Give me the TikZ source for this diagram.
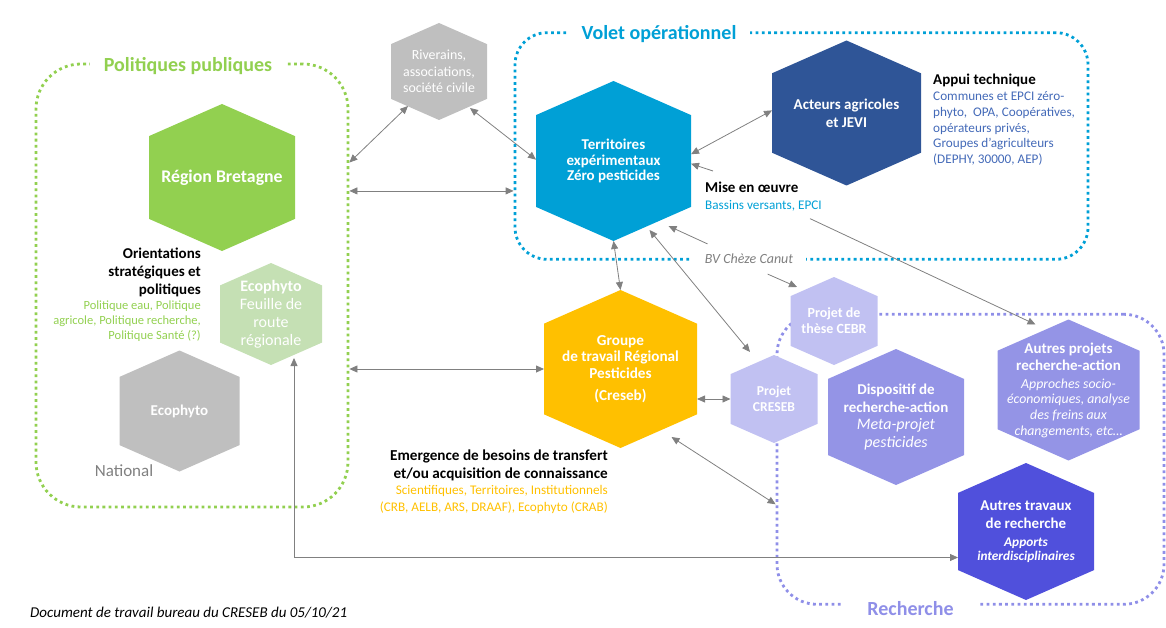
\documentclass[tikz,border=0pt]{standalone}
\usepackage{fontspec}
\setmainfont{Carlito}
\usetikzlibrary{arrows.meta,positioning}

\definecolor{vert}{RGB}{146,208,80}
\definecolor{vertclair}{RGB}{197,224,180}
\definecolor{gris}{RGB}{191,191,191}
\definecolor{grisfonce}{RGB}{128,128,128}
\definecolor{bleu}{RGB}{0,160,214}
\definecolor{bleufonce}{RGB}{47,85,151}
\definecolor{bleutexte}{RGB}{68,106,184}
\definecolor{jaune}{RGB}{255,192,0}
\definecolor{lavclair}{RGB}{193,193,242}
\definecolor{lav}{RGB}{148,148,230}
\definecolor{lavfonce}{RGB}{80,80,220}
\definecolor{lavbord}{RGB}{143,143,232}

\newcommand{\fsz}[2]{\fontsize{#1}{#2}\selectfont}

\tikzset{
  hexa/.style n args={3}{rectangle, minimum width=#1, minimum height=#2,
    inner sep=0pt, outer sep=0pt, text=white, align=center,
    path picture={\fill[#3] (path picture bounding box.north)
      -- ([yshift=-0.22*#1]path picture bounding box.north east)
      -- ([yshift=0.22*#1]path picture bounding box.south east)
      -- (path picture bounding box.south)
      -- ([yshift=0.22*#1]path picture bounding box.south west)
      -- ([yshift=-0.22*#1]path picture bounding box.north west) -- cycle;}},
  cadre/.style={draw=#1, line width=2.8pt, dash pattern=on 2.8pt off 3.4pt,
    rounded corners=40pt, inner sep=0pt},
  titre/.style={fill=white, text=#1, font=\bfseries\fsz{20}{22}, inner xsep=14pt, inner ysep=2pt},
  link/.style={draw=grisfonce, line width=0.8pt,
    {Triangle[length=8pt,width=7pt]}-{Triangle[length=8pt,width=7pt]}},
  onelink/.style={draw=grisfonce, line width=0.8pt, -{Triangle[length=8pt,width=7pt]}},
}

\begin{document}
\begin{tikzpicture}[x=1pt, y=-1pt]
\useasboundingbox (0,0) rectangle (1166,628);

% the three domains
\node[cadre=vert, rounded corners=45pt, minimum width=312pt, minimum height=443pt] (pol) at (192,285.5) {};
\node[cadre=bleu, rounded corners=32pt, minimum width=573pt, minimum height=226.6pt] (vol) at (801.5,146) {};
\node[cadre=lavbord, minimum width=387pt, minimum height=290pt] (rech) at (970.5,459.3) {};

\node[titre=vert] (poltitle) at (188,66) {Politiques publiques};
\node[titre=bleu] (voltitle) at (659,34) {Volet opérationnel};
\node[titre=lavbord, inner xsep=25pt] (rechtitle) at (910.5,608.5) {Recherche};
\node[fill=white, inner xsep=13pt, inner ysep=10pt, text=grisfonce, font=\itshape\fsz{14}{16}] (bv) at (749,259) {BV Chèze Canut};

% hexagons
\node[hexa={96pt}{97pt}{gris}, font=\fsz{13.9}{16.7}] (riv) at (439,71.5) {Riverains,\\associations,\\société civile};
\node[hexa={146pt}{147pt}{vert}, font=\bfseries\fsz{17.8}{20}] (rb) at (222,177.5) {Région Bretagne};
\node[hexa={155pt}{160pt}{bleu}, font=\bfseries\fsz{15}{15.5}] (terr) at (613.5,161) {Territoires\\expérimentaux\\Zéro pesticides};
\node[hexa={149pt}{145pt}{bleufonce}, font=\bfseries\fsz{15}{18}] (act) at (846.5,113) {Acteurs agricoles\\et JEVI};
\node[hexa={102pt}{102pt}{vertclair}, font=\fsz{16}{18}] (fdr) at (271,314) {\textbf{Ecophyto}\\Feuille de\\route\\régionale};
\node[hexa={120pt}{121pt}{gris}, font=\bfseries\fsz{15}{17}] (econat) at (179.5,411) {Ecophyto};
\node[hexa={153pt}{158pt}{jaune}, font=\bfseries\fsz{15.2}{16.5}] (grp) at (620.5,369) {Groupe\\de travail Régional\\Pesticides\\[6pt](Creseb)};
\node[hexa={87pt}{88pt}{lavclair}, font=\bfseries\fsz{13.6}{16}] (pcre) at (774,399) {Projet\\CRESEB};
\node[hexa={87pt}{88pt}{lavclair}, font=\bfseries\fsz{14}{16}] (pceb) at (834,321) {Projet de\\thèse CEBR};
\node[hexa={136pt}{136pt}{lav}, font=\fsz{15}{17.8}] (disp) at (896,417) {\textbf{Dispositif de}\\\textbf{recherche-action}\\\textit{\fsz{16}{17.8}Meta-projet}\\\textit{\fsz{16}{17.8}pesticides}};
\node[hexa={142pt}{141pt}{lav}, font=\fsz{13.8}{15.7}] (apr) at (1068.5,390) {\textbf{\fsz{15}{15.7}Autres projets}\\[2pt]\textbf{\fsz{15}{15.7}recherche-action}\\[1.6pt]\textit{Approches socio-}\\\textit{économiques, analyse}\\\textit{des freins aux}\\\textit{changements, etc…}};
\node[hexa={136pt}{137pt}{lavfonce}, font=\fsz{13.3}{14}] (atr) at (1026,531.5) {\textbf{\fsz{15}{14}Autres travaux}\\[3.7pt]\textbf{\fsz{15}{14}de recherche}\\[4.3pt]\textbf{\textit{Apports}}\\\textbf{\textit{interdisciplinaires}}};

% texts
\node[anchor=east, align=right, inner sep=0pt, font=\bfseries\fsz{15}{18}] (orient) at (201,272) {Orientations\\stratégiques et\\politiques};
\node[anchor=east, align=right, inner sep=0pt, text=vert, font=\fsz{12.5}{15}] (orientsub) at (201,321) {Politique eau, Politique\\agricole, Politique recherche,\\Politique Santé (?)};
\node[inner sep=0pt, text=grisfonce, font=\fsz{17}{19}] (natl) at (124,471) {National};
\node[anchor=east, align=right, inner sep=0pt, font=\bfseries\fsz{15.2}{17.6}] (emerg) at (608,465.5) {Emergence de besoins de transfert\\et/ou acquisition de connaissance};
\node[anchor=east, align=right, inner sep=0pt, text=jaune, font=\fsz{13.2}{17}] (emergsub) at (608,499) {Scientifiques, Territoires, Institutionnels\\(CRB, AELB, ARS, DRAAF), Ecophyto (CRAB)};
\node[anchor=west, inner sep=0pt, font=\bfseries\fsz{15}{17}] (appui) at (933,80.5) {Appui technique};
\node[anchor=west, align=left, inner sep=0pt, text=bleutexte, font=\fsz{13.2}{15.8}] (appuisub) at (933,128.5) {Communes et EPCI zéro-\\phyto,~ OPA, Coopératives,\\opérateurs privés,\\Groupes d’agriculteurs\\(DEPHY, 30000, AEP)};
\node[anchor=north west, align=left, inner sep=0pt, font=\fsz{13.2}{17}] (mise) at (705,182) {\textbf{\fsz{15}{17}Mise en œuvre}\\\textcolor{bleu}{Bassins versants, EPCI}};
\node[anchor=west, inner sep=0pt, font=\itshape\fsz{15}{17}] (doc) at (30,613) {Document de travail bureau du CRESEB du 05/10/21};

% links
\draw[link] ([xshift=-31pt,yshift=14pt]riv.south) -- (pol.38);
\draw[link] (pol.31) -- (pol.31 -| vol.west);
\draw[link] ([xshift=31pt,yshift=12pt]riv.south) -- (terr.179);
\draw[link] (terr.5) -- (act.178);
\draw[onelink] ([xshift=8pt,yshift=11pt]mise.north west) -- (terr.358);
\draw[onelink] (bv.160) -- ([xshift=55pt,yshift=15pt]terr.south);
\draw[link] ([xshift=36pt,yshift=11pt]terr.south) -- ([xshift=-24pt,yshift=3pt]pcre.north);
\draw[link] (terr.south) -- (grp.north);
\draw[onelink] ([xshift=105pt,yshift=-7pt]mise.south west) -- ([xshift=-33pt,yshift=-5pt]apr.north);
\draw[onelink] (bv.321) -- ([xshift=-37pt,yshift=-10pt]pceb.north);
\draw[link] (grp.west) -- (grp.west -| pol.east);
\draw[link] (pcre.west) -- (pcre.west -| grp.east);
\draw[link] ([xshift=51pt,yshift=11pt]grp.south) -- (rech.193);
\draw[link] ([xshift=23pt,yshift=7pt]fdr.south) |- ([yshift=-26pt]atr.west);
\end{tikzpicture}
\end{document}
